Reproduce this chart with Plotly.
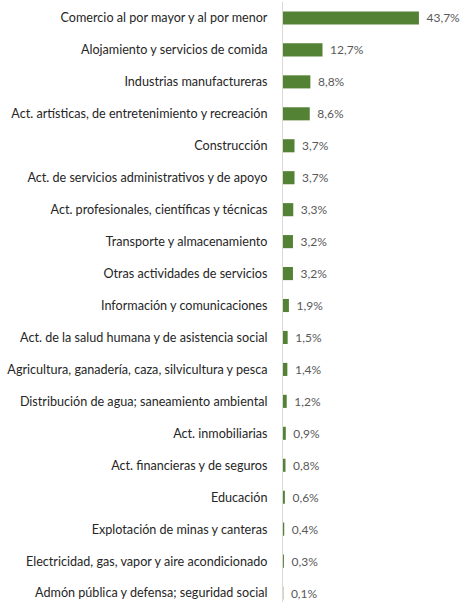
import plotly.graph_objects as go

categories = [
    "Comercio al por mayor y al por menor",
    "Alojamiento y servicios de comida",
    "Industrias manufactureras",
    "Act. artísticas, de entretenimiento y recreación",
    "Construcción",
    "Act. de servicios administrativos y de apoyo",
    "Act. profesionales, científicas y técnicas",
    "Transporte y almacenamiento",
    "Otras actividades de servicios",
    "Información y comunicaciones",
    "Act. de la salud humana y de asistencia social",
    "Agricultura, ganadería, caza, silvicultura y pesca",
    "Distribución de agua; saneamiento ambiental",
    "Act. inmobiliarias",
    "Act. financieras y de seguros",
    "Educación",
    "Explotación de minas y canteras",
    "Electricidad, gas, vapor y aire acondicionado",
    "Admón pública y defensa; seguridad social",
]
values = [43.7, 12.7, 8.8, 8.6, 3.7, 3.7, 3.3, 3.2, 3.2, 1.9, 1.5, 1.4, 1.2, 0.9, 0.8, 0.6, 0.4, 0.3, 0.1]

labels = ["\u00a0\u2009" + f"{v:.1f}%".replace(".", ",") for v in values]

FONT = "Lato, sans-serif"

fig = go.Figure(go.Bar(
    x=values,
    y=categories,
    orientation="h",
    marker=dict(color="#548235", line=dict(width=0)),
    width=0.41,
    text=labels,
    textposition="outside",
    constraintext="none",
    cliponaxis=False,
    textfont=dict(family=FONT, size=12, color="#595959"),
    hoverinfo="skip",
))

fig.update_layout(
    width=469,
    height=602,
    margin=dict(l=283, r=0, t=2, b=0),
    paper_bgcolor="white",
    plot_bgcolor="white",
    showlegend=False,
    font=dict(family=FONT, size=12.6, color="#262626"),
    xaxis=dict(range=[0, 59.8], visible=False, fixedrange=True, automargin=False),
    yaxis=dict(
        range=[18.28, -0.5],
        automargin=False,
        showline=True,
        linecolor="#D9D9D9",
        linewidth=1,
        showgrid=False,
        zeroline=False,
        ticks="",
        ticklabelstandoff=12,
        tickfont=dict(family=FONT, size=12.6, color="#262626"),
        fixedrange=True,
    ),
)

fig.write_html(
    "out.html",
    config={"displayModeBar": False, "staticPlot": True},
    post_script="document.body.style.margin='0';",
)
